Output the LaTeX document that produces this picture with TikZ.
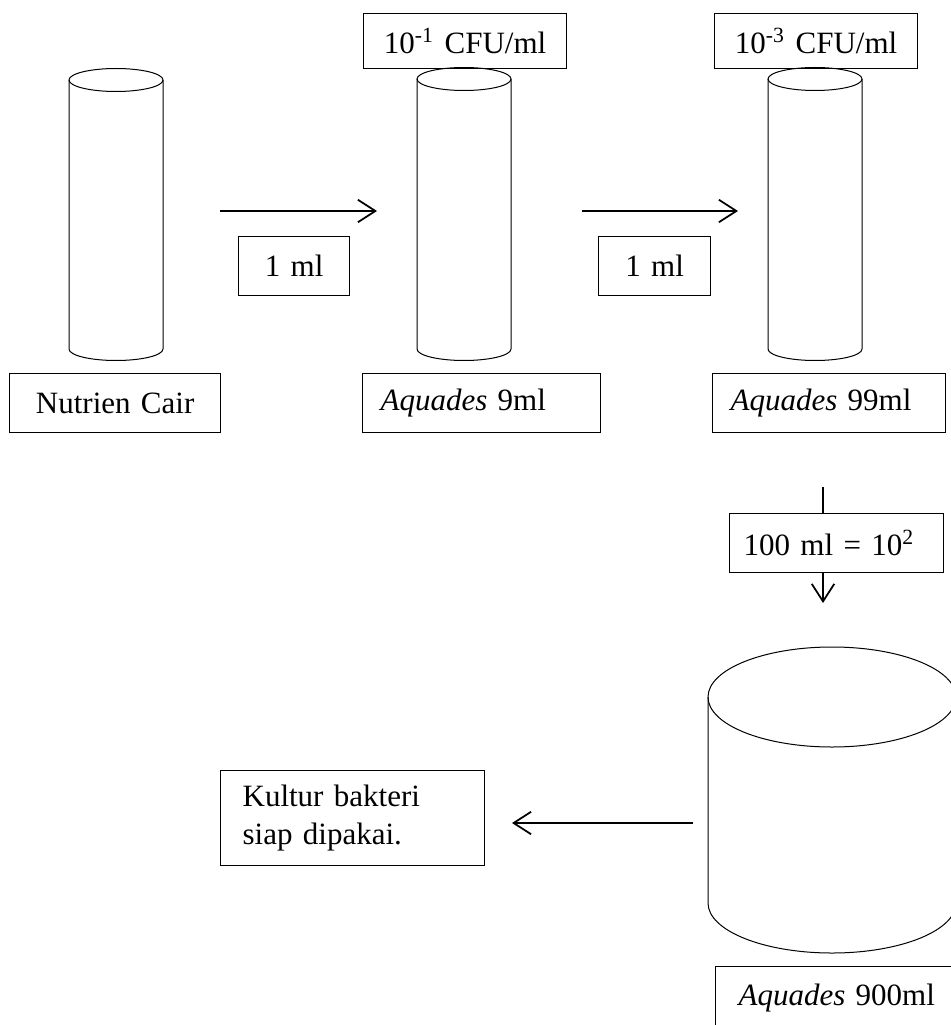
\documentclass[tikz,border=0pt]{standalone}
\usepackage{fontspec}
\setmainfont{Liberation Serif}
\usetikzlibrary{positioning,calc,arrows.meta}

\tikzset{
  kotak/.style={draw, line width=0.5pt, anchor=north west, inner ysep=0pt, inner xsep=8pt, align=center},
  panah/.style={line width=0.7pt, -{Straight Barb[length=7pt,width=9pt]}},
  garis/.style={line width=0.4pt}
}
% tabung: x tengah, y atas, y bawah, rx, ry
\newcommand{\tabung}[5]{%
  \draw[garis] (#1,#2) ellipse [x radius=#4, y radius=#5];
  \draw[garis] (#1-#4,#2) -- (#1-#4,#3) arc[start angle=180, end angle=0, x radius=#4, y radius=#5] -- (#1+#4,#2);
}

\begin{document}
\begin{tikzpicture}[x=0.4pt,y=-0.4pt,font=\fontsize{12.4}{15}\selectfont]
			\useasboundingbox (0,0) rectangle (951,1025);
			\clip (0,0) rectangle (951,1025);
			
			% tabung reaksi
			\foreach \cx/\cy in {116/80, 464/79, 815/79} {
				\tabung{\cx}{\cy}{349}{47}{11.5}
			}
			% tabung besar
			\tabung{832}{697}{903}{124}{50}
			
			% label konsentrasi
			\node[kotak, text width=65.2pt, minimum height=22pt] (cfu1) at (363,13) {10\textsuperscript{-1} CFU/ml};
			\node[kotak, text width=65.2pt, minimum height=22pt] (cfu2) at (714,13) {10\textsuperscript{-3} CFU/ml};
			
			% label isi tabung
			\node[kotak, text width=68.4pt, minimum height=23.6pt] (nutrien) at (9,373) {Nutrien Cair};
			\node[kotak, align=left, inner xsep=7.2pt, text width=80.8pt, minimum height=23.6pt] (aq9) at (362,373) {\textit{Aquades} 9ml};
			\node[kotak, align=left, inner xsep=7.2pt, text width=78.8pt, minimum height=23.6pt] (aq99) at (712,373) {\textit{Aquades} 99ml};
			\node[kotak, align=left, inner xsep=9.2pt, text width=85.6pt, minimum height=24.8pt] (aq900) at (715,966) {\textit{Aquades} 900ml};
			
			% volume yang dipindah
			\node[kotak, text width=28.4pt, minimum height=23.6pt] (ml1) at (238,236) {1 ml};
			\node[kotak, text width=28.8pt, minimum height=23.6pt] (ml2) at (598,236) {1 ml};
			\node[kotak, align=left, inner xsep=5.6pt, text width=74.4pt, minimum height=23.6pt] (ml100) at (729,513) {100 ml = 10\textsuperscript{2}};
			
			% hasil
			\node[kotak, align=left, inner xsep=8.8pt, text width=88pt, minimum height=38pt] (kultur) at (220,770) {Kultur bakteri\\siap dipakai.};
			
			% panah
			\coordinate (p1a) at (220,211);
			\coordinate (p1b) at (377,211);
			\coordinate (p2a) at (582,211);
			\coordinate (p2b) at (738,211);
			\coordinate (v1) at (823,487);
			\coordinate (v2) at (823,603);
			\coordinate (k1) at (693,823);
			\coordinate (k2) at (512,823);
			\draw[panah] (p1a) -- (p1b);
			\draw[panah] (p2a) -- (p2b);
			\draw[line width=0.7pt] (v1) -- (v1 |- ml100.north);
			\draw[panah] (v1 |- ml100.south) -- (v2);
			\draw[panah] (k1) -- (k2);
		\end{tikzpicture}
\end{document}
